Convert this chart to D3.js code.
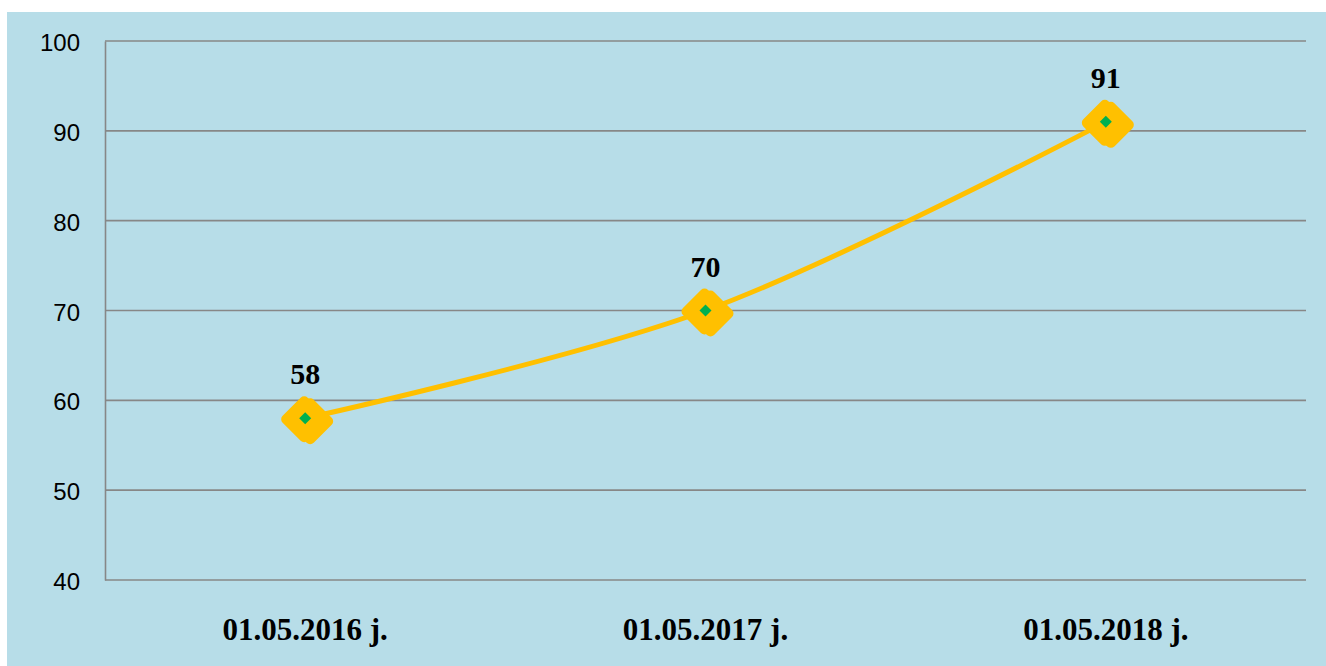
<!DOCTYPE html>
<html>
<head>
<meta charset="utf-8">
<script src="https://cdn.jsdelivr.net/npm/d3@7"></script>
<style>
  html, body { margin: 0; padding: 0; background: #ffffff; }
  svg { display: block; }
</style>
</head>
<body>
<script>
// data
const categories = ["01.05.2016 j.", "01.05.2017 j.", "01.05.2018 j."];
const values = [58, 70, 91];
const yTicks = [40, 50, 60, 70, 80, 90, 100];

const width = 1326, height = 666;
const margin = { top: 41, right: 20, bottom: 86, left: 105 };

const svg = d3.select("body").append("svg")
    .attr("width", width)
    .attr("height", height);

// light blue chart area
svg.append("rect")
    .attr("x", 7).attr("y", 12)
    .attr("width", width - 7).attr("height", height - 12)
    .attr("fill", "#b7dde8");

const x = d3.scaleBand()
    .domain(categories)
    .range([margin.left, width - margin.right]);

const y = d3.scaleLinear()
    .domain([40, 100])
    .range([height - margin.bottom, margin.top]);

// gridlines
svg.append("g")
    .selectAll("line")
    .data(yTicks)
    .join("line")
    .attr("x1", margin.left)
    .attr("x2", width - margin.right)
    .attr("y1", d => y(d))
    .attr("y2", d => y(d))
    .attr("stroke", "#878787")
    .attr("stroke-width", 1.6);

// y axis
const yAxis = svg.append("g")
    .attr("transform", `translate(${margin.left},0)`)
    .call(d3.axisLeft(y).tickValues(yTicks).tickSize(0).tickPadding(25));
yAxis.select(".domain").attr("stroke", "#878787").attr("stroke-width", 1.6);
yAxis.selectAll("text")
    .attr("font-family", "Liberation Sans, Arial, sans-serif")
    .attr("font-size", 24)
    .attr("fill", "#000")
    .attr("dy", "0.4em");

// x axis labels
const xAxis = svg.append("g")
    .attr("transform", `translate(0,${height - margin.bottom})`)
    .call(d3.axisBottom(x).tickSize(0).tickPadding(0));
xAxis.select(".domain").remove();
xAxis.selectAll("text")
    .attr("font-family", "Liberation Serif, Times New Roman, serif")
    .attr("font-weight", "bold")
    .attr("font-size", 31)
    .attr("fill", "#000")
    .attr("y", 60)
    .attr("dy", 0);

const cx = d => x(d.cat) + x.bandwidth() / 2;
const pts = categories.map((c, i) => ({ cat: c, val: values[i] }));

// smoothed line
const line = d3.line()
    .x(cx)
    .y(d => y(d.val))
    .curve(d3.curveCatmullRom.alpha(0.5));

svg.append("path")
    .datum(pts)
    .attr("d", line)
    .attr("fill", "none")
    .attr("stroke", "#ffc000")
    .attr("stroke-width", 5);

// markers
const diamond = r => `M0,${-r}L${r},0L0,${r}L${-r},0Z`;
const mk = svg.append("g")
    .selectAll("g")
    .data(pts)
    .join("g")
    .attr("transform", d => `translate(${cx(d)},${y(d.val)})`);

mk.append("path")
    .attr("d", diamond(18))
    .attr("transform", "translate(5,3)")
    .attr("fill", "#ffc000")
    .attr("stroke", "#ffc000")
    .attr("stroke-width", 10)
    .attr("stroke-linejoin", "round");

mk.append("path")
    .attr("d", diamond(18))
    .attr("transform", "translate(-1,1)")
    .attr("fill", "#ffc000")
    .attr("stroke", "#ffc000")
    .attr("stroke-width", 10)
    .attr("stroke-linejoin", "round");

mk.append("path")
    .attr("d", diamond(6))
    .attr("fill", "#00b050");

// value labels
svg.append("g")
    .selectAll("text")
    .data(pts)
    .join("text")
    .attr("x", cx)
    .attr("y", d => y(d.val) - 34)
    .attr("text-anchor", "middle")
    .attr("font-family", "Liberation Serif, Times New Roman, serif")
    .attr("font-weight", "bold")
    .attr("font-size", 30)
    .attr("fill", "#000")
    .text(d => d.val);
</script>
</body>
</html>
